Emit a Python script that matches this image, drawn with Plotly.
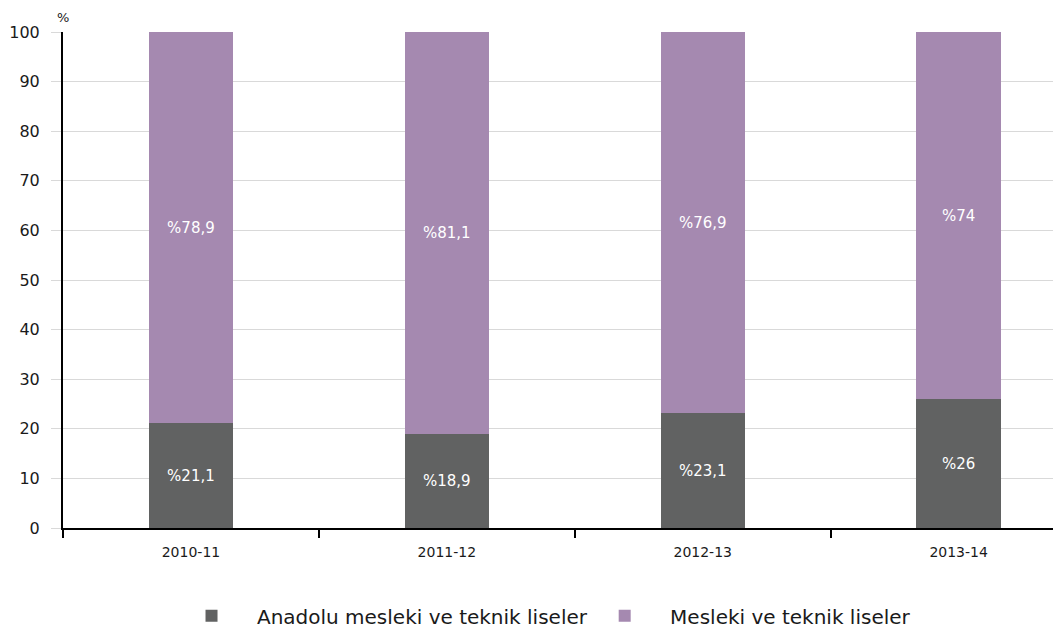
import plotly.graph_objects as go

categories = ["2010-11", "2011-12", "2012-13", "2013-14"]
anadolu = [21.1, 18.9, 23.1, 26]
mesleki = [78.9, 81.1, 76.9, 74]
anadolu_labels = ["%21,1", "%18,9", "%23,1", "%26"]
mesleki_labels = ["%78,9", "%81,1", "%76,9", "%74"]
y_ticks = [0, 10, 20, 30, 40, 50, 60, 70, 80, 90, 100]

FONT = "DejaVu Sans"
NB = "\u00a0"
TXT = "#1a1a1a"

fig = go.Figure()
fig.add_trace(go.Bar(
    x=categories, y=anadolu, name=NB * 4 + "Anadolu mesleki ve teknik liseler" + NB * 2,
    marker=dict(color="#616262", line=dict(width=0)),
    text=anadolu_labels, textposition="inside", insidetextanchor="middle",
    textfont=dict(color="white", size=15, family=FONT), width=0.33,
))
fig.add_trace(go.Bar(
    x=categories, y=mesleki, name=NB * 4 + "Mesleki ve teknik liseler",
    marker=dict(color="#a589b0", line=dict(width=0)),
    text=mesleki_labels, textposition="inside", insidetextanchor="middle",
    textfont=dict(color="white", size=15, family=FONT), width=0.33,
))

fig.update_layout(
    barmode="stack",
    width=1053, height=629,
    margin=dict(l=55, r=0, t=24, b=109),
    plot_bgcolor="white", paper_bgcolor="white",
    font=dict(family=FONT, color=TXT),
    showlegend=True,
    legend=dict(orientation="h", x=0.492, xanchor="center", y=-0.177, yanchor="middle",
                font=dict(size=20, family=FONT, color=TXT), traceorder="normal"),
    annotations=[dict(text="%", x=0.0, y=1.048, xref="paper", yref="paper",
                      xanchor="center", yanchor="top", showarrow=False,
                      font=dict(size=13, family=FONT, color=TXT))],
)
fig.update_xaxes(
    type="category", range=[-0.5, 3.4], tickson="boundaries", automargin=False,
    ticks="outside", ticklen=8, tickwidth=2, tickcolor="black",
    showline=True, linecolor="black", linewidth=2, showgrid=False,
    tickfont=dict(size=14, family=FONT, color=TXT), ticklabelstandoff=10,
)
fig.update_yaxes(
    range=[0, 100], tickvals=y_ticks, showgrid=True, gridcolor="#d9d9d9", gridwidth=1,
    automargin=False,
    ticks="outside", ticklen=10, tickcolor="#d9d9d9", tickwidth=1,
    showline=True, linecolor="black", linewidth=2, zeroline=False,
    tickfont=dict(size=16, family=FONT, color=TXT), ticklabelstandoff=8,
)

fig.write_html("out.html")
